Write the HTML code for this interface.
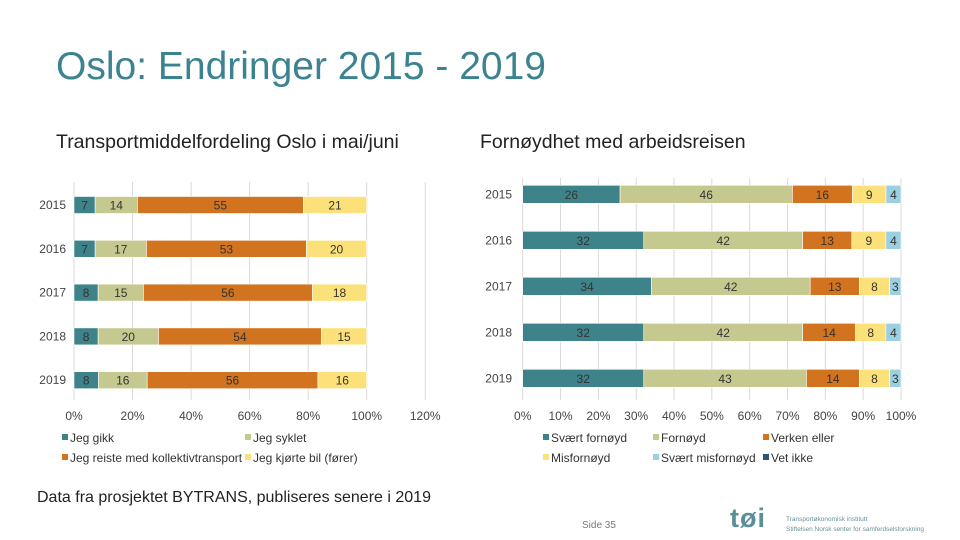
<!DOCTYPE html>
<html><head><meta charset="utf-8"><style>
body{margin:0;width:960px;height:540px;background:#fff;font-family:"Liberation Sans",sans-serif;overflow:hidden;position:relative}
.t{position:absolute;white-space:nowrap}
</style></head><body>
<div class="t" style="left:56px;top:45px;font-size:39px;color:#3b8391">Oslo: Endringer 2015 - 2019</div>
<div class="t" style="left:56px;top:131px;font-size:19.5px;color:#222">Transportmiddelfordeling Oslo i mai/juni</div>
<div class="t" style="left:480px;top:131px;font-size:19.5px;color:#222">Fornøydhet med arbeidsreisen</div>
<div class="t" style="left:37px;top:489px;font-size:16px;color:#222">Data fra prosjektet BYTRANS, publiseres senere i 2019</div>
<div class="t" style="left:582px;top:520px;font-size:10px;color:#777">Side 35</div>
<div class="t" style="left:730px;top:503px;font-size:27px;color:#5a8e99;font-weight:bold;letter-spacing:1px">tøi</div>
<div class="t" style="left:786px;top:515px;font-size:6.5px;color:#6a8f99;line-height:10px">Transportøkonomisk institutt<br>Stiftelsen Norsk senter for samferdselsforskning</div>
<svg id="svg" width="960" height="540" style="position:absolute;left:0;top:0"></svg>
<script>
const years=["2015","2016","2017","2018","2019"];
const modeNames=["Jeg gikk","Jeg syklet","Jeg reiste med kollektivtransport","Jeg kjørte bil (fører)"];
const walk=[7,7,8,8,8];
const bike=[14,17,15,20,16];
const transit=[55,53,56,54,56];
const car=[21,20,18,15,16];
const leftTicks=[0,20,40,60,80,100,120];
const satNames=["Svært fornøyd","Fornøyd","Verken eller","Misfornøyd","Svært misfornøyd","Vet ikke"];
const verySat=[26,32,34,32,32];
const sat=[46,42,42,42,43];
const neither=[16,13,13,14,14];
const unsat=[9,9,8,8,8];
const veryUnsat=[4,4,3,4,3];
const dontKnow=[0,0,0,0,0];
const rightTicks=[0,10,20,30,40,50,60,70,80,90,100];
const C=["#3f838a","#c5c98f","#d2731f","#fce17a","#9ccfdf","#2d5377"];
const svg=document.getElementById('svg');const NS="http://www.w3.org/2000/svg";
function mk(t,a,p){const e=document.createElementNS(NS,t);for(const k in a)e.setAttribute(k,a[k]);(p||svg).appendChild(e);return e;}
function chart(o){
  const x=v=>o.x0+(o.x1-o.x0)*v/100;
  o.ticks.forEach(t=>{
    const l=mk('line',{x1:x(t),x2:x(t),y1:o.gy0,y2:o.gy1,stroke:'#d9d9d9','stroke-width':1});
    
    
    const tx=mk('text',{x:x(t),y:420,'font-size':12,fill:'#444','text-anchor':'middle'});tx.textContent=t+'%';
    
    
  });
  years.forEach((yr,i)=>{
    const cy=o.cy(i);
    const yl=mk('text',{x:o.yx,y:cy+4,'font-size':12,fill:'#444','text-anchor':'end'});yl.textContent=yr;
    
    
    const tot=o.series.reduce((s,a)=>s+a[i],0);let acc=0;
    o.series.forEach((a,k)=>{
      const v=a[i];if(!v)return;
      const xa=x(acc/tot*100),xb=x((acc+v)/tot*100);acc+=v;
      const r=mk('rect',{x:xa,y:cy-o.h/2,width:xb-xa,height:o.h,fill:C[k],stroke:'#fff','stroke-width':0.6});
      
      
      const t=mk('text',{x:(xa+xb)/2,y:cy+4.5,'font-size':12,fill:'#333','text-anchor':'middle'});t.textContent=v;
      
      
    });
  });
  o.names.forEach((n,k)=>{
    const lx=o.lx[k%o.cols],ly=438+20*Math.floor(k/o.cols);
    const s=mk('rect',{x:lx,y:ly-4,width:6,height:6,fill:C[k]});
    
    
    const t=mk('text',{x:lx+8,y:ly+4,'font-size':12,fill:'#333'});t.textContent=n;
    
    
  });
}
chart({x0:74,x1:366.7,gy0:182,gy1:400,ticks:leftTicks,yx:66,cy:i=>205+43.8*i,h:17,series:[walk,bike,transit,car],names:modeNames,cols:2,lx:[62,245]});
chart({x0:522.7,x1:901,gy0:178,gy1:400,ticks:rightTicks,yx:512,cy:i=>194.3+46*i,h:18,series:[verySat,sat,neither,unsat,veryUnsat,dontKnow],names:satNames,cols:3,lx:[543,653,763]});
</script>
</body></html>
